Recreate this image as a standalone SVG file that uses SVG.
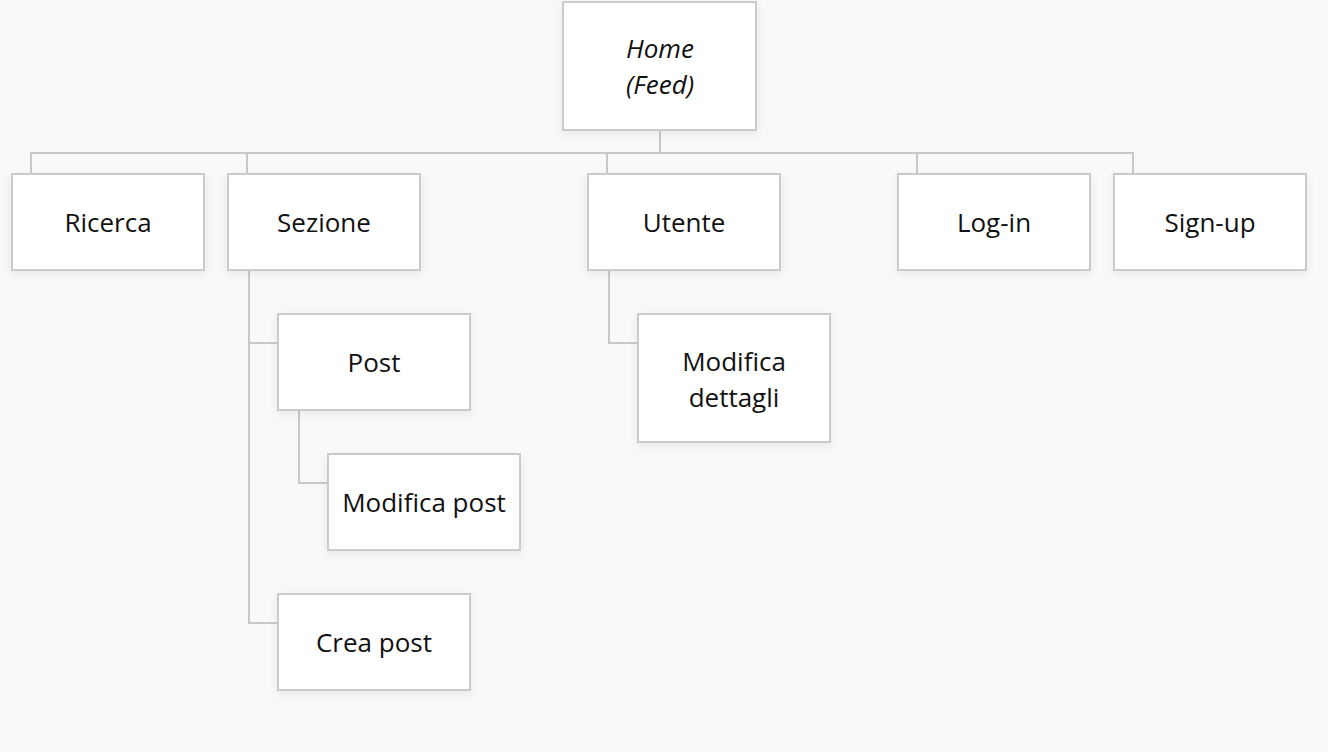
<svg xmlns="http://www.w3.org/2000/svg" width="1328" height="752" viewBox="0 0 1328 752">
<defs>
<filter id="sh" x="-20%" y="-20%" width="140%" height="150%">
<feDropShadow dx="0" dy="3" stdDeviation="4" flood-color="#000" flood-opacity="0.07"/>
</filter>
<style>
.box{fill:#fff;stroke:#cbcbcb;stroke-width:2;filter:url(#sh)}
.t{font-family:"Open Sans","Liberation Sans",sans-serif;font-size:26px;fill:#111;text-anchor:middle}
.i{font-style:italic}
.c{fill:none;stroke:#c8c8c8;stroke-width:2}
</style>
</defs>
<rect width="1328" height="752" fill="#f8f9fb"/>
<g id="connectors">
<path class="c" d="M660 131V153M31 173V153H1133V173M247 153V173M607 153V173M917 153V173"/>
<path class="c" d="M249 271V623H277M249 343H277"/>
<path class="c" d="M299 411V483H327"/>
<path class="c" d="M609 271V343H637"/>
</g>
<g id="home"><rect class="box" x="563" y="2" width="193" height="128"/><text class="t i" x="660" y="58">Home</text><text class="t i" x="660" y="94">(Feed)</text></g>
<g id="ricerca"><rect class="box" x="12" y="174" width="192" height="96"/><text class="t" x="108" y="232">Ricerca</text></g>
<g id="sezione"><rect class="box" x="228" y="174" width="192" height="96"/><text class="t" x="324" y="232">Sezione</text></g>
<g id="utente"><rect class="box" x="588" y="174" width="192" height="96"/><text class="t" x="684" y="232">Utente</text></g>
<g id="login"><rect class="box" x="898" y="174" width="192" height="96"/><text class="t" x="994" y="232">Log-in</text></g>
<g id="signup"><rect class="box" x="1114" y="174" width="192" height="96"/><text class="t" x="1210" y="232">Sign-up</text></g>
<g id="post"><rect class="box" x="278" y="314" width="192" height="96"/><text class="t" x="374" y="372">Post</text></g>
<g id="modifica-post"><rect class="box" x="328" y="454" width="192" height="96"/><text class="t" x="424" y="512">Modifica post</text></g>
<g id="crea-post"><rect class="box" x="278" y="594" width="192" height="96"/><text class="t" x="374" y="652">Crea post</text></g>
<g id="modifica-dettagli"><rect class="box" x="638" y="314" width="192" height="128"/><text class="t" x="734" y="371">Modifica</text><text class="t" x="734" y="407">dettagli</text></g>
</svg>
